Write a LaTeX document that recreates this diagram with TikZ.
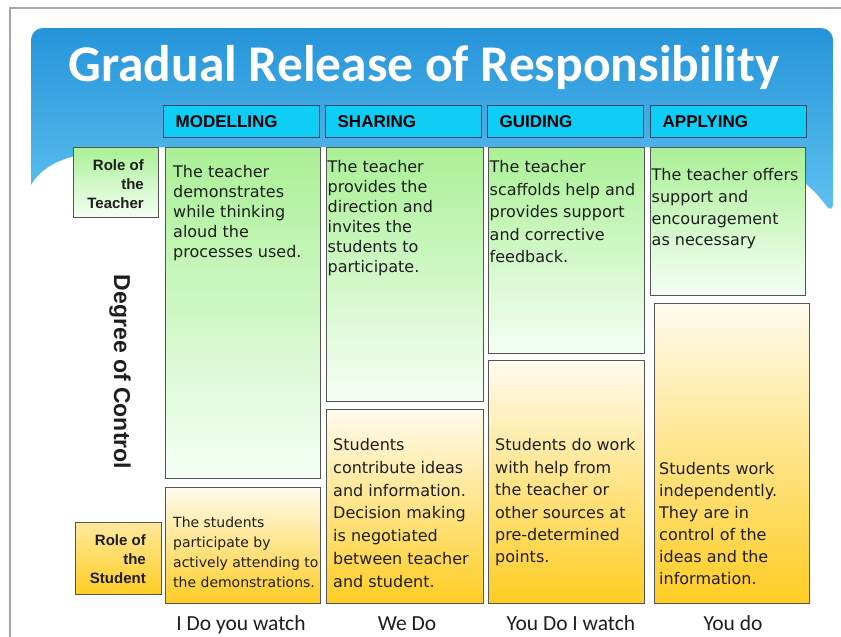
\documentclass[tikz,border=0pt]{standalone}
\usepackage{fontspec}
\newfontfamily\bodyfont{DejaVu Sans}
\newfontfamily\arialfont{Liberation Sans}
\newfontfamily\califont{Carlito}
\usetikzlibrary{positioning}
\usepackage{xcolor}

\definecolor{bannertop}{RGB}{38,148,218}
\definecolor{bannerbot}{RGB}{95,195,240}
\definecolor{hdrfill}{RGB}{15,205,245}
\definecolor{hdrline}{RGB}{25,70,100}
\definecolor{boxline}{RGB}{85,85,85}
\definecolor{grtop}{RGB}{170,240,150}
\definecolor{grbot}{RGB}{245,255,245}
\definecolor{yetop}{RGB}{255,251,238}
\definecolor{yebot}{RGB}{255,205,35}
\definecolor{txtcol}{RGB}{30,30,30}

\begin{document}
\begin{tikzpicture}[x=1pt, y=-1pt,
    hdr/.style={draw=hdrline, fill=hdrfill, line width=1.3pt, anchor=north west,
        minimum height=32pt, inner xsep=12pt, text width=132pt, align=left,
        font=\arialfont\bfseries\fontsize{17}{20}\selectfont},
    tbox/.style={draw=boxline, line width=1.2pt, anchor=north west, top color=grtop, bottom color=grbot},
    sbox/.style={draw=boxline, line width=1.2pt, anchor=north west, top color=yetop, bottom color=yebot},
    body/.style={anchor=north west, inner sep=0pt, align=left, text=txtcol},
    role/.style={anchor=north east, inner sep=0pt, align=right, text=txtcol,
        font=\arialfont\bfseries\fontsize{15}{19}\selectfont},
    lbl/.style={anchor=base, inner sep=0pt, text=txtcol, font=\califont\fontsize{21.5}{24}\selectfont}]
    \useasboundingbox (0,0) rectangle (841,637);

    % Frame and banner
    \draw[gray!70, line width=1.5pt] (10,637) -- (10,8) -- (841,8);
    \shade[top color=bannertop, bottom color=bannerbot]
        (31,185) [rounded corners=12pt] -- (31,28) -- (833,28) -- (833,215) [sharp corners]
        .. controls (800,170) and (760,147) .. (620,147) -- (200,147)
        .. controls (100,147) and (50,152) .. (31,185) -- cycle;
    \node[anchor=base, text=white, font=\califont\bfseries\fontsize{51.5}{56}\selectfont] (title) at (424,81)
        {Gradual Release of Responsibility};

    % Headers
    \node[hdr] (hmod) at (163,105) {MODELLING};
    \node[hdr] (hsha) at (325,105) {SHARING};
    \node[hdr] (hgui) at (487,105) {GUIDING};
    \node[hdr] (happ) at (650,105) {APPLYING};

    % Roles
    \node[tbox, minimum width=85, minimum height=70] (rteach) at (73,147) {};
    \node[role] (rteachtxt) at (144,159.5) {Role of\\the\\Teacher};
    \node[sbox, minimum width=86, minimum height=72, top color=yetop!60!yebot] (rstud) at (75,522) {};
    \node[role] (rstudtxt) at (146,534.5) {Role of\\the\\Student};
    \node[rotate=-90, font=\arialfont\bfseries\fontsize{23}{26}\selectfont, text=txtcol] (degree) at (120,372)
        {Degree of Control};

    % Role of the teacher
    \node[tbox, minimum width=155, minimum height=331] (tmod) at (165,147) {};
    \node[tbox, minimum width=157, minimum height=254] (tsha) at (326,147) {};
    \node[tbox, minimum width=156, minimum height=206] (tgui) at (488,147) {};
    \node[tbox, minimum width=155, minimum height=148] (tapp) at (650,147) {};

    \node[body, font=\bodyfont\fontsize{16}{20}\selectfont] (tmodtxt) at (173,165.5)
        {The teacher\\demonstrates\\while thinking\\aloud the\\processes used.};
    \node[body, font=\bodyfont\fontsize{16}{20}\selectfont] (tshatxt) at (327.5,160.5)
        {The teacher\\provides the\\direction and\\invites the\\students to\\participate.};
    \node[body, font=\bodyfont\fontsize{16}{22.5}\selectfont] (tguitxt) at (489.5,160.5)
        {The teacher\\scaffolds help and\\provides support\\and corrective\\feedback.};
    \node[body, font=\bodyfont\fontsize{16}{21.7}\selectfont] (tapptxt) at (651.5,168.5)
        {The teacher offers\\support and\\encouragement\\as necessary};

    % Role of the student
    \node[sbox, minimum width=155, minimum height=116] (smod) at (165,487) {};
    \node[sbox, minimum width=157, minimum height=194] (ssha) at (326,409) {};
    \node[sbox, minimum width=156, minimum height=243] (sgui) at (488,360) {};
    \node[sbox, minimum width=155, minimum height=300] (sapp) at (654,303) {};

    \node[body, font=\bodyfont\fontsize{14}{20}\selectfont] (smodtxt) at (173,517)
        {The students\\participate by\\actively attending to\\the demonstrations.};
    \node[body, font=\bodyfont\fontsize{16}{22.7}\selectfont] (sshatxt) at (333,438.5)
        {Students\\contribute ideas\\and information.\\Decision making\\is negotiated\\between teacher\\and student.};
    \node[body, font=\bodyfont\fontsize{16}{22.4}\selectfont] (sguitxt) at (495,438.5)
        {Students do work\\with help from\\the teacher or\\other sources at\\pre-determined\\points.};
    \node[body, font=\bodyfont\fontsize{16}{22}\selectfont] (sapptxt) at (659,462.5)
        {Students work\\independently.\\They are in\\control of the\\ideas and the\\information.};

    % Labels
    \node[lbl] (lmod) at (241,630) {I Do you watch};
    \node[lbl] (lsha) at (407,630) {We Do};
    \node[lbl] (lgui) at (571,630) {You Do I watch};
    \node[lbl] (lapp) at (733,630) {You do};
\end{tikzpicture}
\end{document}
